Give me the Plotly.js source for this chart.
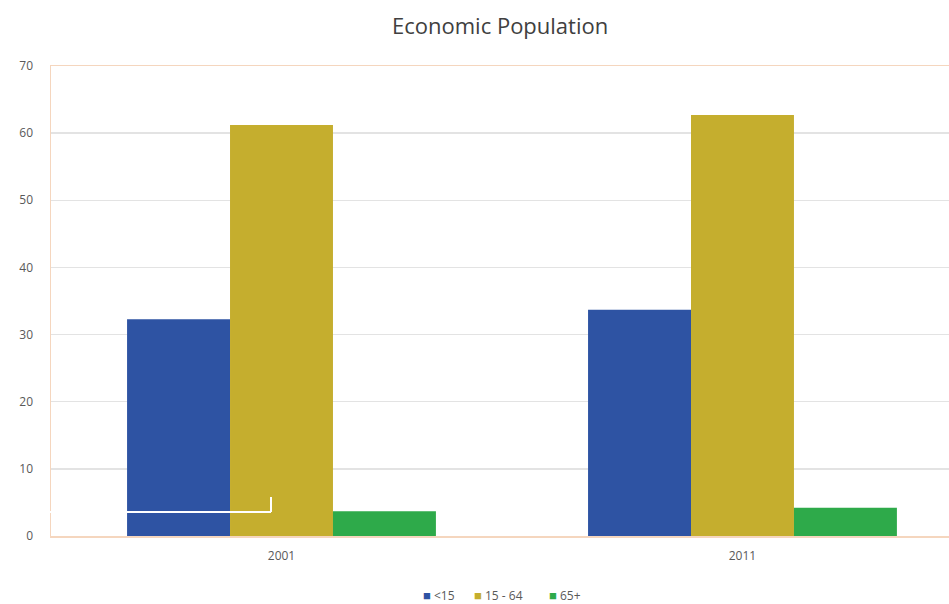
<!DOCTYPE html>
<html>
<head>
<meta charset="utf-8">
<script src="https://cdn.plot.ly/plotly-3.0.1.min.js"></script>
<style>html,body{margin:0;padding:0;background:#fff;overflow:hidden;}</style>
</head>
<body>
<div id="chart" style="width:949px;height:604px;"></div>
<script>
const years = ["2001", "2011"];
const under15 = [32.3, 33.7];
const age15to64 = [61.2, 62.7];
const over65 = [3.7, 4.2];
const seriesNames = ["<15", "15 - 64", "65+"];
const yTicks = [0, 10, 20, 30, 40, 50, 60, 70];

const colors = ["#2E53A3", "#C5AE2E", "#2EAA4A"];
const seriesValues = [under15, age15to64, over65];

const data = seriesValues.map((vals, i) => ({
  type: "bar",
  x: years,
  y: vals,
  name: seriesNames[i],
  marker: {color: colors[i]},
  hoverinfo: "skip"
}));

function esc(s) { return s.replace(/&/g, "&amp;").replace(/</g, "&lt;").replace(/>/g, "&gt;"); }
const legendLeftPx = [421, 472, 547];
const legendAnns = seriesNames.map((n, i) => ({
  xref: "paper", yref: "paper",
  x: (legendLeftPx[i] - 51) / 898, y: -(595 - 536) / 470,
  xanchor: "left", yanchor: "middle", showarrow: false,
  text: '<span style="color:' + colors[i] + ';font-size:13px">■</span> ' + esc(n),
  font: {size: 12, color: "#595959"}
}));

const layout = {
  width: 949, height: 604,
  margin: {l: 51, r: 0, t: 66, b: 68, autoexpand: false},
  paper_bgcolor: "#fff", plot_bgcolor: "#fff",
  font: {family: "Open Sans, Liberation Sans, sans-serif", color: "#595959", size: 12},
  title: {text: "Economic Population", x: 0.527, xanchor: "center", y: 0.957, yanchor: "middle",
          font: {size: 22, color: "#404040", family: "Open Sans, Liberation Sans, sans-serif"}},
  barmode: "group",
  bargap: 0.33,
  bargroupgap: 0,
  showlegend: false,
  annotations: legendAnns,
  xaxis: {type: "category", range: [-0.5, 1.448], showgrid: false, zeroline: false, automargin: false,
          showline: true, linecolor: "#F5D6BE", linewidth: 1.5, mirror: true,
          ticks: "", tickfont: {size: 12, color: "#595959"}, ticklabelstandoff: 8, fixedrange: true},
  yaxis: {range: [0, 70], tickvals: yTicks, ticktext: yTicks.map(String), automargin: false,
          showgrid: true, gridcolor: "#E3E3E3", gridwidth: 1.5, zeroline: false,
          showline: true, linecolor: "#F5D6BE", linewidth: 1.5, mirror: true,
          ticks: "", tickfont: {size: 12, color: "#595959"}, ticklabelstandoff: 14, fixedrange: true},
  shapes: [
    {type: "line", xref: "paper", yref: "paper", x0: -0.005, x1: 0.245, y0: 0.051, y1: 0.051,
     line: {color: "#ffffff", width: 2}},
    {type: "line", xref: "paper", yref: "paper", x0: 0.245, x1: 0.245, y0: 0.051, y1: 0.083,
     line: {color: "#ffffff", width: 2}}
  ]
};

Plotly.newPlot("chart", data, layout, {displayModeBar: false, staticPlot: true});
</script>
</body>
</html>
